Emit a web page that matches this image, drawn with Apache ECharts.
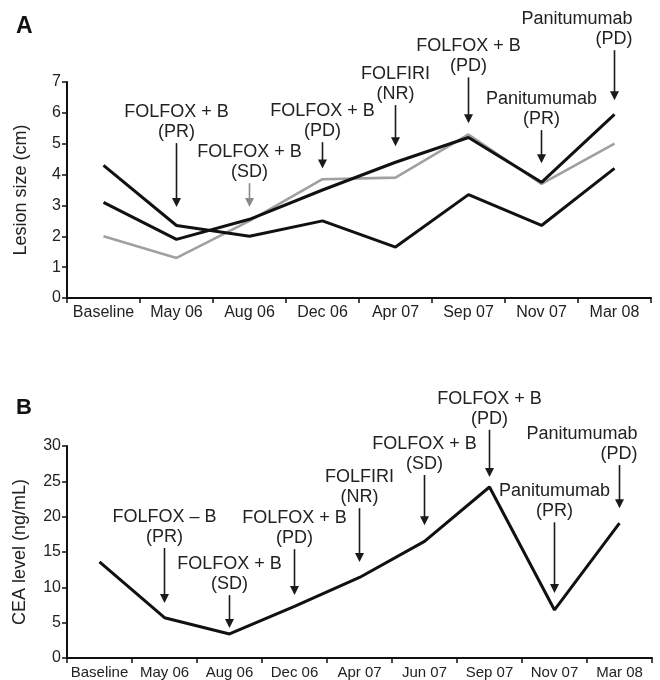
<!DOCTYPE html>
<html>
<head>
<meta charset="utf-8">
<script src="https://cdn.jsdelivr.net/npm/echarts@6/dist/echarts.min.js"></script>
<style>
html,body{margin:0;padding:0;background:#fff;}
#chart{width:660px;height:680px;}
</style>
</head>
<body>
<div id="chart"></div>
<script>
// ---------- Panel A data ----------
const categoriesA = ['Baseline', 'May 06', 'Aug 06', 'Dec 06', 'Apr 07', 'Sep 07', 'Nov 07', 'Mar 08'];
const lesionA1 = [4.3, 2.35, 2.0, 2.5, 1.65, 3.35, 2.35, 4.2];
const lesionA2 = [3.1, 1.9, 2.55, 3.5, 4.4, 5.2, 3.75, 5.95];
const lesionA3 = [2.0, 1.3, 2.5, 3.85, 3.9, 5.3, 3.7, 5.0];
const yTicksA = [0, 1, 2, 3, 4, 5, 6, 7];

// Panel A annotations (category index, arrow from value, arrow to value, text)
const annACat   = [1, 2, 3, 4, 5, 6, 7];
const annAFrom  = [5.02, 3.72, 5.05, 6.25, 7.15, 5.44, 8.03];
const annATo    = [2.95, 2.95, 4.2, 4.92, 5.66, 4.37, 6.41];
const annALine1 = ['FOLFOX + B', 'FOLFOX + B', 'FOLFOX + B', 'FOLFIRI', 'FOLFOX + B', 'Panitumumab', 'Panitumumab'];
const annALine2 = ['(PR)', '(SD)', '(PD)', '(NR)', '(PD)', '(PR)', '(PD)'];

// ---------- Panel B data ----------
const categoriesB = ['Baseline', 'May 06', 'Aug 06', 'Dec 06', 'Apr 07', 'Jun 07', 'Sep 07', 'Nov 07', 'Mar 08'];
const ceaB = [13.6, 5.7, 3.4, 7.3, 11.4, 16.5, 24.2, 6.8, 19.1];
const yTicksB = [0, 5, 10, 15, 20, 25, 30];

const annBCat   = [1, 2, 3, 4, 5, 6, 7, 8];
const annBFrom  = [15.57, 8.9, 15.4, 21.2, 25.9, 32.3, 19.2, 27.3];
const annBTo    = [7.78, 4.25, 8.9, 13.6, 18.8, 25.6, 9.2, 21.2];
const annBLine1 = ['FOLFOX \u2013 B', 'FOLFOX + B', 'FOLFOX + B', 'FOLFIRI', 'FOLFOX + B', 'FOLFOX + B', 'Panitumumab', 'Panitumumab'];
const annBLine2 = ['(PR)', '(SD)', '(PD)', '(NR)', '(SD)', '(PD)', '(PR)', '(PD)'];

// ---------- styling (not data) ----------
const FONT = '"Liberation Sans", Arial, Helvetica, sans-serif';
const rightAlignedA = [6];   // indexes of annotations whose text is right-aligned
const rightAlignedB = [7];
const greyArrowA = [1];

function makeArrowRenderer(line1, line2, rightIdx, greyIdx) {
  return function (params, api) {
    const i = params.dataIndex;
    const cat = api.value(0);
    const p0 = api.coord([cat, api.value(1)]);
    const p1 = api.coord([cat, api.value(2)]);
    const col = greyIdx.indexOf(i) >= 0 ? '#8a8a8a' : '#1a1a1a';
    const right = rightIdx.indexOf(i) >= 0;
    return {
      type: 'group',
      children: [
        { type: 'line', shape: { x1: p0[0], y1: p0[1], x2: p1[0], y2: p1[1] - 7 },
          style: { stroke: col, lineWidth: 1.6 } },
        { type: 'polygon', shape: { points: [[p1[0] - 4.5, p1[1] - 9], [p1[0] + 4.5, p1[1] - 9], [p1[0], p1[1]]] },
          style: { fill: col } },
        { type: 'text', x: right ? p0[0] + 18 : p0[0], y: p0[1] - 1,
          style: { text: line1[i] + '\n' + line2[i], align: right ? 'right' : 'center', verticalAlign: 'bottom',
                   font: '18px ' + FONT, lineHeight: 20, fill: '#222' } }
      ]
    };
  };
}

const chart = echarts.init(document.getElementById('chart'), null, { renderer: 'canvas' });

const axisLine = { show: true, lineStyle: { color: '#111', width: 2 } };
const axisTick = { show: true, length: 5, lineStyle: { color: '#111', width: 1.5 } };

chart.setOption({
  backgroundColor: '#fff',
  animation: false,
  title: [
    { text: 'A', left: 11, top: 10, textStyle: { fontFamily: FONT, fontSize: 23, fontWeight: 'bold', color: '#111' } },
    { text: 'B', left: 11, top: 392, textStyle: { fontFamily: FONT, fontSize: 22, fontWeight: 'bold', color: '#111' } }
  ],
  grid: [
    { left: 67, right: 9, top: 82, height: 216 },
    { left: 67, right: 8, top: 446, height: 212 }
  ],
  xAxis: [
    { type: 'category', gridIndex: 0, data: categoriesA, boundaryGap: true,
      axisLine: axisLine, axisTick: axisTick,
      axisLabel: { color: '#222', fontFamily: FONT, fontSize: 16, margin: 7, interval: 0 } },
    { type: 'category', gridIndex: 1, data: categoriesB, boundaryGap: true,
      axisLine: axisLine, axisTick: axisTick,
      axisLabel: { color: '#222', fontFamily: FONT, fontSize: 15, margin: 7, interval: 0 } }
  ],
  yAxis: [
    { type: 'value', gridIndex: 0, min: yTicksA[0], max: yTicksA[yTicksA.length - 1], interval: 1,
      name: 'Lesion size (cm)', nameLocation: 'middle', nameGap: 37,
      nameTextStyle: { fontFamily: FONT, fontSize: 18, color: '#222', padding: [0, 0, 0, 0] },
      axisLine: axisLine, axisTick: axisTick, splitLine: { show: false },
      axisLabel: { color: '#222', fontFamily: FONT, fontSize: 16, margin: 6 } },
    { type: 'value', gridIndex: 1, min: yTicksB[0], max: yTicksB[yTicksB.length - 1], interval: 5,
      name: 'CEA level (ng/mL)', nameLocation: 'middle', nameGap: 38,
      nameTextStyle: { fontFamily: FONT, fontSize: 18, color: '#222' },
      axisLine: axisLine, axisTick: axisTick, splitLine: { show: false },
      axisLabel: { color: '#222', fontFamily: FONT, fontSize: 16, margin: 6 } }
  ],
  series: [
    { type: 'line', xAxisIndex: 0, yAxisIndex: 0, data: lesionA3, showSymbol: false, symbol: 'none',
      lineStyle: { color: '#a0a0a0', width: 2.6 }, z: 2 },
    { type: 'line', xAxisIndex: 0, yAxisIndex: 0, data: lesionA1, showSymbol: false, symbol: 'none',
      lineStyle: { color: '#111', width: 3 }, z: 3 },
    { type: 'line', xAxisIndex: 0, yAxisIndex: 0, data: lesionA2, showSymbol: false, symbol: 'none',
      lineStyle: { color: '#111', width: 3 }, z: 3 },
    { type: 'custom', xAxisIndex: 0, yAxisIndex: 0, clip: false, z: 5,
      renderItem: makeArrowRenderer(annALine1, annALine2, rightAlignedA, greyArrowA),
      data: annACat.map((c, i) => [c, annAFrom[i], annATo[i]]) },
    { type: 'line', xAxisIndex: 1, yAxisIndex: 1, data: ceaB, showSymbol: false, symbol: 'none',
      lineStyle: { color: '#111', width: 3 }, z: 3 },
    { type: 'custom', xAxisIndex: 1, yAxisIndex: 1, clip: false, z: 5,
      renderItem: makeArrowRenderer(annBLine1, annBLine2, rightAlignedB, []),
      data: annBCat.map((c, i) => [c, annBFrom[i], annBTo[i]]) }
  ]
});
</script>
</body>
</html>
